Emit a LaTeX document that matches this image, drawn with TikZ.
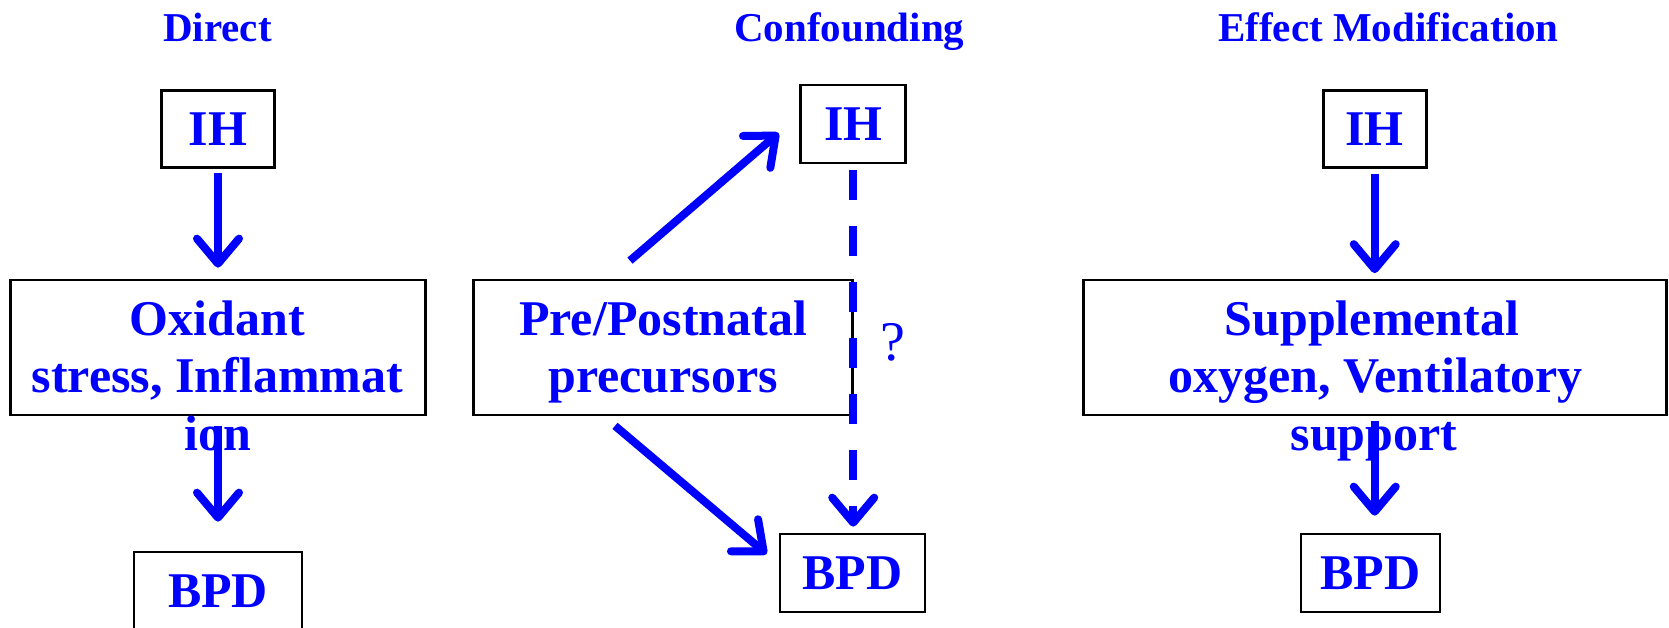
\documentclass[tikz,border=0pt]{standalone}
\usepackage{fontspec}
\setmainfont{Liberation Serif}
\usetikzlibrary{arrows.meta}
\newcommand\dgbody{\bfseries\fontsize{50}{57}\selectfont}
\newcommand\dgtitle{\bfseries\fontsize{41}{48}\selectfont}
\begin{document}
\begin{tikzpicture}[x=1pt,y=-1pt,
  box/.style={draw=black, line width=2.7pt, inner sep=0pt, text=blue, font=\dgbody, text height=33.1pt, text depth=0pt},
  lbl/.style={text=blue, font=\dgbody, inner sep=0pt, anchor=base},
  ttl/.style={text=blue, font=\dgtitle, inner sep=0pt, anchor=base},
  qmark/.style={text=blue, font=\fontsize{56}{64}\selectfont, inner sep=0pt, anchor=base},
  arr/.style={draw=blue, line width=8pt, -{Straight Barb[length=25pt,width=42pt,round]}},
]
\useasboundingbox (0,0) rectangle (1669,628);
\clip (0,0) rectangle (1669,628);

% titles
\node[ttl] (t1) at (217.5,41.5) {Direct};
\node[ttl] (t2) at (849.4,41.5) {Confounding};
\node[ttl] (t3) at (1388.5,41.5) {Effect Modification};

% Direct
\node[box, minimum width=113pt, minimum height=77pt] (ihl) at (218,129) {IH};
\node[box, minimum width=415pt, minimum height=135pt] (oxl) at (218,347.5) {};
\node[box, minimum width=168pt, minimum height=78pt] (bpdl) at (218,591) {BPD};
\node[lbl] (oxa) at (217.5,335) {Oxidant};
\node[lbl] (oxb) at (217.5,392.5) {stress, Inflammat};
\node[lbl] (oxc) at (217.5,450) {ion};

% Confounding
\node[box, minimum width=105pt, minimum height=78pt] (ihm) at (853.2,124) {IH};
\node[box, minimum width=379pt, minimum height=135pt] (pre) at (663,347.5) {};
\node[box, minimum width=145pt, minimum height=78pt] (bpdm) at (852.5,573) {BPD};
\node[lbl] (prea) at (663,335) {Pre/Postnatal};
\node[lbl] (preb) at (663,392.5) {precursors};
\node[qmark] (qm) at (893,360) {?};

% Effect modification
\node[box, minimum width=103pt, minimum height=77pt] (ihr) at (1374.7,129) {IH};
\node[box, minimum width=583pt, minimum height=135pt] (sup) at (1375.2,347.5) {};
\node[box, minimum width=139pt, minimum height=78pt] (bpdr) at (1370.5,573) {BPD};
\node[lbl] (supa) at (1372,335) {Supplemental};
\node[lbl] (supb) at (1375.5,392.5) {oxygen, Ventilatory};
\node[lbl] (supc) at (1374,450.5) {support};

% arrows
\draw[arr, shorten <=4.5pt, shorten >=11pt] (ihl.south) -- (oxl.north);
\draw[arr, shorten <=10pt, shorten >=29pt] (oxl.south) -- (bpdl.north);

\draw[arr] ([xshift=-33pt,yshift=18pt]pre.north) -- ([xshift=-20.7pt,yshift=-9pt]ihm.west);
\draw[arr] ([xshift=-48pt,yshift=-9.5pt]pre.south) -- ([xshift=-12pt,yshift=19pt]bpdm.west);
\draw[arr, dash pattern=on 30pt off 26pt, shorten <=5.5pt, shorten >=6pt] (ihm.south) -- (ihm.south |- bpdm.north);

\draw[arr, shorten <=5pt, shorten >=5.5pt] (ihr.south) -- (ihr.south |- sup.north);
\draw[arr, shorten <=5pt, shorten >=17pt] (sup.south -| ihr.south) -- (ihr.south |- bpdr.north);
\end{tikzpicture}
\end{document}
